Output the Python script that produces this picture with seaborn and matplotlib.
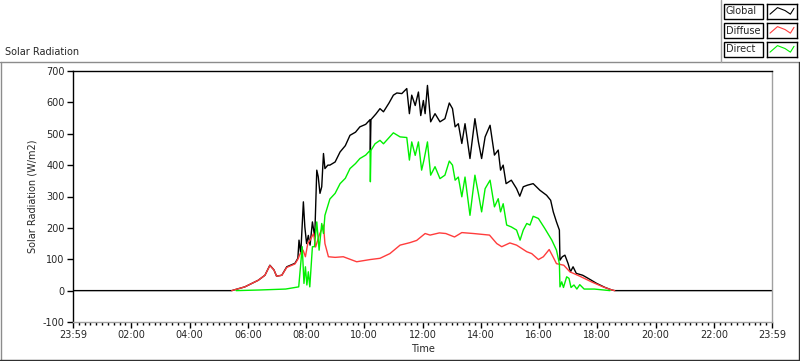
import matplotlib
matplotlib.use("Agg")
import matplotlib.pyplot as plt
from matplotlib.lines import Line2D
from matplotlib.patches import Rectangle
from matplotlib.ticker import MultipleLocator
import seaborn as sns

# time in hours since 23:59 of the previous day, radiation in W/m2
global_t = [0, 5.45, 5.9, 6.36, 6.59, 6.76, 6.9, 6.99, 7.17, 7.34, 7.62, 7.72, 7.76, 7.82, 7.91,
            7.96, 8.02, 8.08, 8.14, 8.22, 8.3, 8.37, 8.42, 8.48, 8.54, 8.6, 8.65, 8.75, 8.82, 9.0,
            9.17, 9.35, 9.51, 9.7, 9.85, 10.05, 10.2, 10.21, 10.23, 10.4, 10.54, 10.66, 10.85, 11.0,
            11.12, 11.29, 11.46, 11.55, 11.63, 11.75, 11.86, 11.94, 12.03, 12.09, 12.17, 12.28,
            12.43, 12.6, 12.77, 12.92, 13.03, 13.12, 13.23, 13.35, 13.46, 13.63, 13.8, 13.92,
            14.03, 14.15, 14.32, 14.47, 14.6, 14.68, 14.77, 14.87, 15.05, 15.23, 15.34, 15.46,
            15.6, 15.8, 16.03, 16.26, 16.4, 16.49, 16.6, 16.7, 16.72, 16.8, 16.89, 17.0, 17.08,
            17.17, 17.28, 17.5, 17.69, 17.98, 18.27, 18.5, 18.6, 24]
global_w = [0, 0, 12, 33, 49, 81, 66, 46, 49, 76, 87, 103, 161, 118, 283,
            203, 150, 176, 145, 219, 171, 384, 363, 310, 331, 437, 389, 400, 400, 410,
            442, 462, 495, 505, 522, 530, 545, 447, 545, 563, 580, 570, 598, 623,
            630, 628, 644, 564, 623, 590, 633, 558, 606, 564, 654, 538,
            564, 538, 548, 598, 580, 522, 532, 469, 532, 421, 548, 474,
            421, 490, 527, 432, 448, 384, 400, 341, 352, 325, 301, 331,
            336, 341, 320, 304, 288, 251, 219, 193, 97, 108, 113, 86, 60,
            76, 55, 49, 39, 23, 10, 2, 0, 0]

diffuse_t = [5.45, 5.9, 6.36, 6.59, 6.76, 6.9, 6.99, 7.17, 7.34, 7.62, 7.72, 7.8, 7.9, 7.98, 8.06,
             8.14, 8.26, 8.33, 8.45, 8.6, 8.65, 8.77, 9.0, 9.28, 9.74, 10.2, 10.54, 10.88, 11.23,
             11.57, 11.8, 12.09, 12.26, 12.58, 12.8, 13.1, 13.35, 13.75, 14.3, 14.55, 14.72, 15.0,
             15.23, 15.58, 15.75, 15.98, 16.15, 16.35, 16.48, 16.6, 16.85, 17.06, 17.4, 17.8,
             18.2, 18.5, 18.6]
diffuse_w = [0, 12, 33, 49, 80, 66, 46, 49, 74, 85, 100, 118, 129, 108, 150,
             161, 182, 139, 176, 209, 150, 108, 106, 108, 92, 99, 103, 118, 145,
             153, 160, 182, 177, 184, 182, 171, 185, 182, 177, 150, 140, 152,
             145, 124, 118, 99, 108, 131, 108, 86, 81, 60, 46, 28,
             12, 2, 0]

direct_t = [5.6, 6.4, 7.3, 7.75, 7.87, 7.93, 7.98, 8.03, 8.08, 8.13, 8.22, 8.29, 8.37, 8.45, 8.54,
            8.6, 8.65, 8.82, 9.0, 9.17, 9.35, 9.51, 9.7, 9.85, 10.05, 10.2, 10.21, 10.23, 10.37,
            10.54, 10.66, 11.0, 11.23, 11.46, 11.55, 11.63, 11.75, 11.86, 11.97, 12.05, 12.17,
            12.28, 12.43, 12.6, 12.77, 12.92, 13.03, 13.12, 13.23, 13.35, 13.46, 13.63, 13.8,
            13.92, 14.03, 14.15, 14.32, 14.47, 14.6, 14.68, 14.77, 14.89, 15.05, 15.23, 15.35,
            15.46, 15.58, 15.69, 15.8, 15.98, 16.2, 16.44, 16.6, 16.7, 16.72, 16.78, 16.84,
            16.95, 17.03, 17.1, 17.2, 17.3, 17.4, 17.55, 17.9, 18.44]
direct_w = [0, 2, 5, 12, 140, 23, 76, 18, 60, 12, 140, 140, 219, 129, 214,
            182, 240, 292, 310, 341, 358, 389, 405, 421, 432, 447, 347, 447, 468,
            479, 468, 503, 490, 488, 416, 474, 431, 474, 384, 416, 474,
            368, 395, 357, 368, 413, 400, 352, 362, 299, 362, 240, 368,
            309, 251, 325, 352, 267, 293, 251, 277, 209, 203, 193, 161,
            193, 214, 209, 237, 230, 198, 161, 129, 86, 12, 28, 10,
            44, 39, 10, 18, 5, 19, 5, 5, 0]

series_names = ["Global", "Diffuse", "Direct"]
series_colors = ["#000000", "#ff3c3c", "#00f000"]
x_labels = ["23:59", "02:00", "04:00", "06:00", "08:00", "10:00", "12:00",
            "14:00", "16:00", "18:00", "20:00", "22:00", "23:59"]
y_ticks = [-100, 0, 100, 200, 300, 400, 500, 600, 700]

sns.set_style("white")
plt.rcParams["font.family"] = ["DejaVu Sans"]
plt.rcParams["font.size"] = 7
plt.rcParams["axes.unicode_minus"] = False

W, H = 800, 361
fig = plt.figure(figsize=(8, 3.61), dpi=100)
ax = fig.add_axes([73 / W, 1 - 322 / H, (772 - 73) / W, (322 - 71) / H])

for t, w, c in zip([global_t, diffuse_t, direct_t], [global_w, diffuse_w, direct_w], series_colors):
    sns.lineplot(x=t, y=w, ax=ax, color=c, lw=1, estimator=None, sort=False)

ax.set_xlim(0, 24)
ax.set_ylim(-100, 700)
ax.set_xticks(range(0, 25, 2))
ax.set_xticklabels(x_labels)
ax.xaxis.set_minor_locator(MultipleLocator(0.2))
ax.set_yticks(y_ticks)
ax.tick_params(axis="both", which="major", direction="out", length=4, width=1,
               color="black", labelsize=7, pad=2, bottom=True, left=True)
ax.tick_params(axis="x", which="minor", direction="out", length=2.5, width=1,
               color="black", bottom=True)
ax.set_xlabel("Time", fontsize=7, labelpad=3)
ax.set_ylabel("Solar Radiation (W/m2)", fontsize=7, labelpad=4)

for side, col in [("top", "black"), ("left", "black"), ("right", "#a0a0a0"), ("bottom", "#a0a0a0")]:
    ax.spines[side].set_visible(True)
    ax.spines[side].set_color(col)
    ax.spines[side].set_linewidth(1)

# outer panel frame
def fig_line(x0, y0, x1, y1, color):
    fig.add_artist(Line2D([x0 / W, x1 / W], [1 - y0 / H, 1 - y1 / H],
                          color=color, lw=1, transform=fig.transFigure))

fig_line(0, 61.5, 799, 61.5, "#8c8c8c")
fig_line(0.5, 61.5, 0.5, 361, "#8c8c8c")
fig_line(0, 360, 800, 360, "#303030")
fig_line(799, 61.5, 799, 361, "#303030")
fig_line(720.5, 0, 720.5, 61.5, "#a0a0a0")

fig.text(5 / W, 1 - 52 / H, "Solar Radiation", fontsize=7, va="center", ha="left")

# legend block in the top right corner
row_top = [4, 23, 42]
for name, col, yt in zip(series_names, series_colors, row_top):
    fig.add_artist(Rectangle((723.5 / W, 1 - (yt + 14.5) / H), 39 / W, 14.5 / H,
                             transform=fig.transFigure, fc="white", ec="black", lw=1))
    fig.text(726 / W, 1 - (yt + 7.5) / H, name, fontsize=7, va="center", ha="left")
    lax = fig.add_axes([767 / W, 1 - (yt + 14.5) / H, 30 / W, 14.5 / H])
    sns.lineplot(x=[0.1, 0.35, 0.6, 0.78, 0.9], y=[0.3, 0.75, 0.55, 0.3, 0.7],
                 ax=lax, color=col, lw=0.8, estimator=None, sort=False)
    lax.set_xlim(0, 1)
    lax.set_ylim(0, 1)
    lax.set_xticks([])
    lax.set_yticks([])
    lax.set_xlabel("")
    lax.set_ylabel("")
    for s in lax.spines.values():
        s.set_visible(True)
        s.set_color("black")
        s.set_linewidth(1)

fig.savefig("out.png", dpi=100)
